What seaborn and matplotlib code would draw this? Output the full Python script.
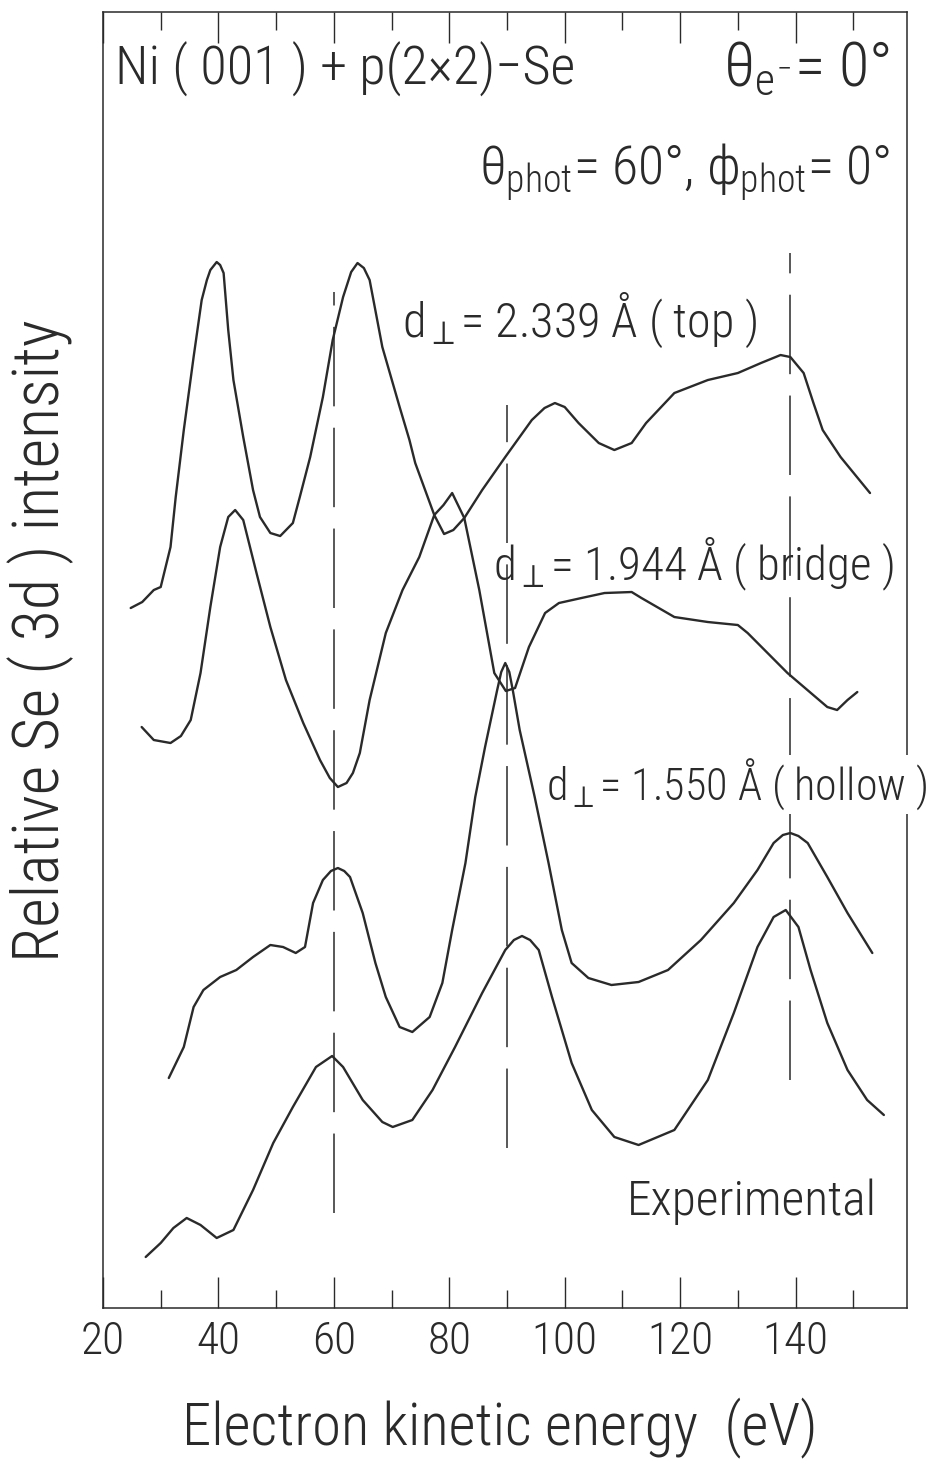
import numpy as np
import pandas as pd
import matplotlib
matplotlib.use('Agg')
import matplotlib.pyplot as plt
from matplotlib import font_manager
from matplotlib.ticker import FixedLocator
import seaborn as sns

# --- values: energy (eV) and relative intensity (arb. units) ---
top_energy = [26.7, 28.8, 31.7, 33.5, 35.2, 36.9, 38.6, 40.3, 41.7, 42.9, 44.3, 46.6, 49.0,
              51.7, 54.7, 57.6, 59.3, 60.7, 62.2, 63.3, 64.5, 66.2, 69.0, 71.9, 74.8, 77.4,
              79.1, 80.7, 82.6, 85.7, 89.7, 94.3, 96.5, 98.3, 100.0, 102.4, 105.9, 108.6,
              111.6, 114.1, 119.0, 124.8, 130.0, 134.0, 137.4, 139.1, 141.4, 143.1, 144.7,
              147.8, 152.9]
top_intensity = [58.1, 56.8, 56.5, 57.2, 58.8, 63.5, 70.1, 76.1, 79.1, 79.8, 78.8, 73.5, 68.1,
                 62.8, 58.5, 54.8, 53.0, 52.1, 52.5, 53.5, 55.5, 60.8, 67.5, 71.8, 75.1, 79.3,
                 77.4, 77.8, 79.0, 81.8, 85.1, 88.8, 90.0, 90.5, 90.1, 88.5, 86.5, 85.8,
                 86.5, 88.5, 91.5, 92.8, 93.5, 94.5, 95.3, 95.1, 93.5, 90.5, 87.8,
                 85.1, 81.5]

bridge_energy = [24.8, 26.8, 28.8, 30.0, 31.7, 32.6, 34.0, 35.7, 37.1, 38.0, 38.6, 39.7, 40.3,
                 40.9, 41.7, 42.6, 44.3, 46.0, 47.2, 49.0, 50.7, 52.9, 54.1, 55.9, 58.1,
                 59.8, 61.6, 63.0, 64.1, 65.2, 66.2, 68.4, 71.4, 73.1, 74.1, 77.4, 79.0,
                 80.5, 82.6, 85.2, 87.8, 89.8, 91.4, 93.8, 96.6, 99.0, 102.9, 106.9, 111.6,
                 113.3, 119.0, 124.8, 130.0, 131.7, 138.6, 145.5, 147.2, 149.0, 150.7]
bridge_intensity = [70.0, 70.6, 71.8, 72.1, 76.1, 81.1, 87.8, 95.1, 100.8, 102.8, 103.8, 104.6,
                    104.3, 103.5, 97.8, 92.8, 87.1, 81.8, 79.1, 77.5, 77.2, 78.5, 81.1, 85.1,
                    91.1, 96.8, 101.1, 103.6, 104.5, 104.0, 102.8, 96.1, 90.1, 86.8, 84.5,
                    79.3, 80.3, 81.5, 79.0, 71.8, 63.5, 61.7, 62.0, 66.1, 69.5, 70.5, 71.0,
                    71.5, 71.6, 71.0, 69.1, 68.6, 68.3, 67.5, 63.5, 60.1, 59.8, 60.8, 61.6]

hollow_energy = [31.4, 34.0, 35.7, 37.4, 40.3, 43.1, 46.0, 49.0, 51.2, 53.4, 55.0, 56.4,
                 58.1, 59.5, 60.7, 61.8, 62.8, 65.0, 67.2, 69.0, 71.4, 73.6, 76.6, 78.8,
                 80.5, 82.8, 84.5, 86.2, 88.3, 89.0, 89.7, 90.4, 91.0, 92.2, 94.8, 97.2,
                 99.5, 101.2, 104.1, 108.1, 112.8, 117.9, 123.6, 129.3, 133.4, 136.2, 137.8,
                 139.1, 140.5, 142.1, 145.5, 149.0, 153.3]
hollow_intensity = [23.0, 26.1, 30.1, 31.8, 33.1, 33.8, 35.1, 36.3, 36.1, 35.5, 36.1, 40.5,
                    42.8, 43.7, 44.0, 43.7, 43.1, 39.5, 34.5, 31.1, 28.1, 27.6, 29.1, 32.5,
                    37.8, 44.5, 51.1, 56.1, 61.8, 63.6, 64.5, 63.6, 61.8, 57.8, 51.1, 44.5,
                    37.8, 34.5, 33.0, 32.3, 32.6, 33.8, 36.8, 40.5, 43.8, 46.5, 47.3,
                    47.5, 47.2, 46.5, 43.1, 39.5, 35.5]

exp_energy = [27.4, 30.0, 32.2, 34.5, 36.9, 39.7, 42.6, 46.0, 49.5, 52.9, 56.9, 59.7,
              61.6, 65.0, 68.4, 70.2, 73.6, 77.1, 81.0, 85.7, 89.7, 91.2, 92.6, 94.0, 95.5,
              97.8, 101.2, 104.7, 108.6, 112.8, 119.0, 124.8, 129.3, 133.4, 136.2, 138.3,
              140.5, 142.6, 145.5, 149.0, 152.4, 155.3]
exp_intensity = [5.1, 6.5, 8.0, 9.0, 8.3, 7.0, 7.8, 11.8, 16.5, 20.1, 24.1, 25.2,
                 24.1, 20.8, 18.6, 18.1, 18.8, 21.8, 26.1, 31.5, 35.8, 36.8, 37.2, 36.8, 35.8,
                 31.1, 24.5, 19.8, 17.1, 16.3, 17.8, 22.8, 29.5, 36.1, 39.1, 39.8,
                 38.1, 33.8, 28.5, 23.8, 20.8, 19.3]

# dashed guide lines: energy and vertical extent
guide_energy = [60, 90, 139]
guide_low = [9.5, 16.0, 22.8]
guide_high = [101.6, 90.3, 105.5]

major_ticks = [20, 40, 60, 80, 100, 120, 140]
minor_ticks = [30, 50, 70, 90, 110, 130, 150]

# long-form table for seaborn
spectra = pd.concat([
    pd.DataFrame({'curve': 'top', 'energy': top_energy, 'intensity': top_intensity}),
    pd.DataFrame({'curve': 'bridge', 'energy': bridge_energy, 'intensity': bridge_intensity}),
    pd.DataFrame({'curve': 'hollow', 'energy': hollow_energy, 'intensity': hollow_intensity}),
    pd.DataFrame({'curve': 'experimental', 'energy': exp_energy, 'intensity': exp_intensity}),
], ignore_index=True)

sns.set_theme(style='white')

# pick a narrow face if one is installed
available = {f.name for f in font_manager.fontManager.ttflist}
fam = 'DejaVu Sans'
for cand in ['Noto Sans ExtraCondensed Light', 'Noto Sans ExtraCondensed',
             'Liberation Sans Narrow', 'Noto Sans Condensed', 'Roboto Condensed']:
    if cand in available:
        fam = cand
        break
plt.rcParams['font.family'] = [fam, 'DejaVu Sans']
plt.rcParams['font.weight'] = 'light'
plt.rcParams['axes.labelweight'] = 'light'
plt.rcParams['mathtext.fontset'] = 'custom'
plt.rcParams['mathtext.rm'] = fam + ':light'
plt.rcParams['mathtext.it'] = fam + ':light'
plt.rcParams['mathtext.sf'] = fam + ':light'
plt.rcParams['mathtext.bf'] = fam

ink = '#2a2a2a'

fig = plt.figure(figsize=(9.38, 14.68), dpi=100)
renderer = fig.canvas.get_renderer()

# scale font sizes so that text widths follow the reference lettering
probe = fig.text(0, 0, 'Experimental', fontsize=37)
w = probe.get_window_extent(renderer=renderer).width
probe.remove()
k = 250.0 / w


def fit_width(txt, width_px):
    # resize a text so that it spans the same width as in the reference
    cur = txt.get_window_extent(renderer=renderer).width
    txt.set_fontsize(txt.get_fontsize() * width_px / cur)


ax = fig.add_axes([0.1098, 0.1090, 0.8571, 0.8828])

sns.lineplot(data=spectra, x='energy', y='intensity', units='curve', estimator=None,
             sort=False, color=ink, linewidth=1.7, legend=False, ax=ax)

ax.vlines(guide_energy, guide_low, guide_high, colors=ink, linewidth=1.1,
          linestyles=[(0, (52, 14))])

ax.set_xlim(20, 159.3)
ax.set_ylim(0, 129.6)

ax.xaxis.set_major_locator(FixedLocator(major_ticks))
ax.xaxis.set_minor_locator(FixedLocator(minor_ticks))
ax.set_xticklabels([str(t) for t in major_ticks])
ax.set_yticks([])
ax.tick_params(axis='x', which='major', direction='in', length=22, width=1.0,
               color=ink, top=True, bottom=True, labelsize=34 * k, pad=9,
               labelcolor=ink)
ax.tick_params(axis='x', which='minor', direction='in', length=13, width=1.0,
               color=ink, top=True, bottom=True)
for s in ax.spines.values():
    s.set_visible(True)
    s.set_color(ink)
    s.set_linewidth(1.1)

ax.set_xlabel('Electron kinetic energy  (eV)', fontsize=44 * k, color=ink,
              fontweight='light')
ax.xaxis.set_label_coords(0.494, -0.0926)
ax.xaxis.label.set_va('center')
ax.set_ylabel('Relative Se ( 3d ) intensity', fontsize=48 * k, color=ink,
              fontweight='light')
ax.yaxis.set_label_coords(-0.078, 0.515)
ax.yaxis.label.set_va('center')

lab = dict(transform=ax.transAxes, color=ink, va='baseline', fontsize=40)
t = ax.text(0.0149, 0.9437, 'Ni ( 001 ) + p(2×2)−Se', ha='left', **lab)
fit_width(t, 460)
head_size = t.get_fontsize()
t = ax.text(0.9789, 0.9437, r'$\theta_{e^{-}}$= 0°', ha='right', **lab)
t.set_fontsize(head_size * 1.15)
t = ax.text(0.9789, 0.8665, r'$\theta_{\mathrm{phot}}$= 60°, $\phi_{\mathrm{phot}}$= 0°',
            ha='right', **lab)
fit_width(t, 410)
t = ax.text(0.3719, 0.7492, r'd$_{\perp}$= 2.339 Å ( top )', ha='left', **lab)
fit_width(t, 355)
t = ax.text(0.4851, 0.5617, r'd$_{\perp}$= 1.944 Å ( bridge )', ha='left', **lab)
fit_width(t, 400)
t = ax.text(0.5510, 0.3920, r'd$_{\perp}$= 1.550 Å ( hollow )', ha='left',
            bbox=dict(facecolor='white', edgecolor='none', pad=1), zorder=5, **lab)
fit_width(t, 380)
t = ax.text(0.6517, 0.0718, 'Experimental', ha='left', **lab)
fit_width(t, 250)

fig.savefig('out.png', dpi=100, facecolor='white')
